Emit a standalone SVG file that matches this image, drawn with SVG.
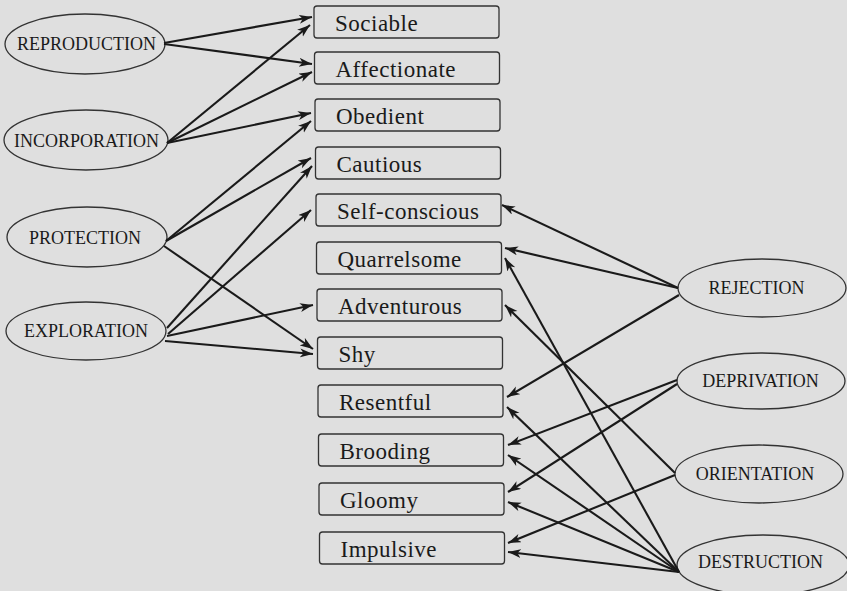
<svg xmlns="http://www.w3.org/2000/svg" width="847" height="591" viewBox="0 0 847 591">
<style>
.bg{fill:#dfdfdf}
.box{fill:none;stroke:#333;stroke-width:1.3}
.ell{fill:none;stroke:#333;stroke-width:1.3}
.bt{font-family:"Liberation Serif","Times New Roman",serif;font-size:23px;letter-spacing:0.5px;fill:#1a1a1a}
.et{font-family:"Liberation Serif","Times New Roman",serif;font-size:18px;fill:#1a1a1a;text-anchor:middle}
.c line{stroke:#1a1a1a;stroke-width:2.1;marker-end:url(#ah)}
</style>
<defs>
<marker id="ah" markerUnits="userSpaceOnUse" markerWidth="14" markerHeight="10" refX="13" refY="4.5" orient="auto">
<path d="M0,0 L13,4.5 L0,9 L3.5,4.5 Z" fill="#1a1a1a"/>
</marker>
</defs>
<rect class="bg" x="0" y="0" width="847" height="591"/>

<g id="sociable"><rect class="box" x="314" y="6" width="185" height="32" rx="3"/><text class="bt" x="335" y="30.5">Sociable</text></g>
<g id="affectionate"><rect class="box" x="314.5" y="52" width="185" height="32" rx="3"/><text class="bt" x="335.5" y="76.5">Affectionate</text></g>
<g id="obedient"><rect class="box" x="315" y="99" width="185" height="32" rx="3"/><text class="bt" x="336" y="123.5">Obedient</text></g>
<g id="cautious"><rect class="box" x="315.5" y="147" width="185" height="32" rx="3"/><text class="bt" x="336.5" y="171.5">Cautious</text></g>
<g id="self-conscious"><rect class="box" x="316" y="194" width="185" height="32" rx="3"/><text class="bt" x="337" y="218.5">Self-conscious</text></g>
<g id="quarrelsome"><rect class="box" x="316.5" y="242" width="185" height="32" rx="3"/><text class="bt" x="337.5" y="266.5">Quarrelsome</text></g>
<g id="adventurous"><rect class="box" x="317" y="289" width="185" height="32" rx="3"/><text class="bt" x="338" y="313.5">Adventurous</text></g>
<g id="shy"><rect class="box" x="317.5" y="337" width="185" height="32" rx="3"/><text class="bt" x="338.5" y="361.5">Shy</text></g>
<g id="resentful"><rect class="box" x="318" y="385" width="185" height="32" rx="3"/><text class="bt" x="339" y="409.5">Resentful</text></g>
<g id="brooding"><rect class="box" x="318.5" y="434" width="185" height="32" rx="3"/><text class="bt" x="339.5" y="458.5">Brooding</text></g>
<g id="gloomy"><rect class="box" x="319" y="483" width="185" height="32" rx="3"/><text class="bt" x="340" y="507.5">Gloomy</text></g>
<g id="impulsive"><rect class="box" x="319.5" y="532" width="185" height="32" rx="3"/><text class="bt" x="340.5" y="556.5">Impulsive</text></g>

<g id="reproduction"><ellipse class="ell" cx="85" cy="44" rx="80" ry="30"/><text class="et" x="86.5" y="50">REPRODUCTION</text></g>
<g id="incorporation"><ellipse class="ell" cx="86" cy="140" rx="82" ry="30"/><text class="et" x="86.5" y="147">INCORPORATION</text></g>
<g id="protection"><ellipse class="ell" cx="87" cy="237" rx="80" ry="30"/><text class="et" x="85" y="244">PROTECTION</text></g>
<g id="exploration"><ellipse class="ell" cx="86" cy="331" rx="80" ry="29"/><text class="et" x="86" y="337">EXPLORATION</text></g>

<g id="rejection"><ellipse class="ell" cx="762" cy="288" rx="84" ry="29"/><text class="et" x="756.5" y="294">REJECTION</text></g>
<g id="deprivation"><ellipse class="ell" cx="761" cy="381" rx="84" ry="28"/><text class="et" x="760.5" y="387">DEPRIVATION</text></g>
<g id="orientation"><ellipse class="ell" cx="759" cy="474" rx="84" ry="29"/><text class="et" x="755" y="480">ORIENTATION</text></g>
<g id="destruction"><ellipse class="ell" cx="763" cy="565" rx="86" ry="30"/><text class="et" x="760.5" y="568">DESTRUCTION</text></g>

<g id="connectors" class="c">
<line x1="164" y1="43" x2="312" y2="17"/>
<line x1="164" y1="44" x2="312" y2="64"/>
<line x1="167" y1="143" x2="310" y2="25"/>
<line x1="167" y1="143" x2="312" y2="72"/>
<line x1="167" y1="143" x2="311" y2="113"/>
<line x1="166" y1="241" x2="311" y2="121"/>
<line x1="166" y1="241" x2="311" y2="158"/>
<line x1="164" y1="246" x2="313" y2="349"/>
<line x1="167" y1="328" x2="312" y2="166"/>
<line x1="168" y1="334" x2="311" y2="210"/>
<line x1="167" y1="336" x2="313" y2="305"/>
<line x1="165" y1="341" x2="313" y2="354"/>

<line x1="678" y1="288" x2="502" y2="205"/>
<line x1="678" y1="288" x2="505" y2="248"/>
<line x1="679" y1="295" x2="507" y2="397"/>
<line x1="677" y1="380" x2="508" y2="445"/>
<line x1="677" y1="384" x2="508" y2="492"/>
<line x1="675" y1="473" x2="505" y2="305"/>
<line x1="675" y1="475" x2="508" y2="543"/>
<line x1="679" y1="572" x2="505" y2="258"/>
<line x1="679" y1="572" x2="507" y2="407"/>
<line x1="679" y1="572" x2="508" y2="455"/>
<line x1="679" y1="572" x2="508" y2="502"/>
<line x1="679" y1="572" x2="508" y2="552"/>
</g>
</svg>
